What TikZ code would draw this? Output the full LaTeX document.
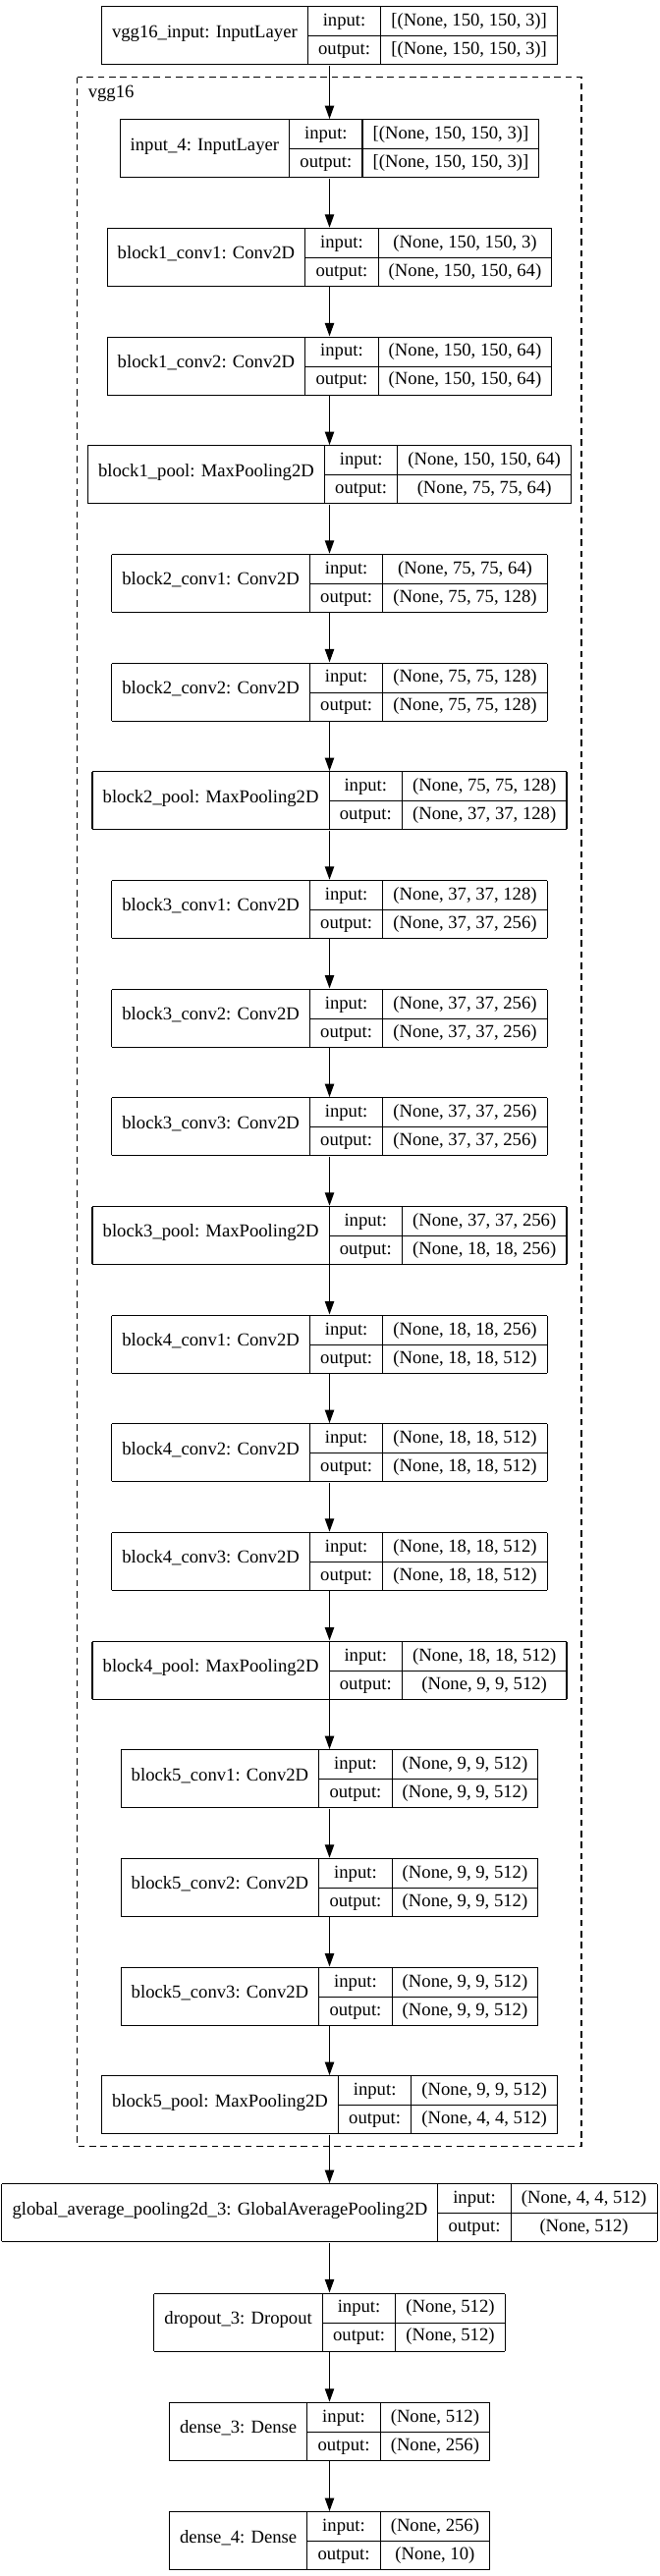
\documentclass[tikz,border=0pt]{standalone}
\usepackage{fontspec}
\setmainfont{Liberation Serif}
\usepackage{multirow}
\usetikzlibrary{arrows.meta}

\setlength{\tabcolsep}{8pt}
\setlength{\arrayrulewidth}{0.8pt}
\newcommand{\rowstrut}{\rule[-7.25pt]{0pt}{21.75pt}}
\newcommand{\rec}[3]{%
  \begin{tabular}{|c|c|c|}\hline
  \multirow{2}{*}{#1} & \rowstrut input: & #2\\ \cline{2-3}
   & \rowstrut output: & #3\\ \hline
  \end{tabular}}

\tikzset{
  layerbox/.style={anchor=north, inner sep=0pt},
  flow/.style={-{Triangle[length=10pt,width=7pt]}, line width=0.8pt}
}

\begin{document}
\begin{tikzpicture}[x=0.75pt, y=-0.75pt, font=\fontsize{14}{17}\selectfont]
\path[fill=white, use as bounding box] (0,0) rectangle (671,2623);
% the vgg16 sub-model
\draw [dashed, dash pattern=on 5pt off 3.5pt, line width=0.8pt] (78.5,78.5) rectangle (592,2185.5);
\node [anchor=base west, inner sep=0pt] (vgglabel) at (89.5,99) {vgg16};
\node [layerbox] (inp) at (335.5,6) {\rec{vgg16\_input: InputLayer}{[(None, 150, 150, 3)]}{[(None, 150, 150, 3)]}};
\node [layerbox] (inp4) at (335.5,121) {\rec{input\_4: InputLayer}{[(None, 150, 150, 3)]}{[(None, 150, 150, 3)]}};
\node [layerbox] (b1c1) at (335.5,231.7) {\rec{block1\_conv1: Conv2D}{(None, 150, 150, 3)}{(None, 150, 150, 64)}};
\node [layerbox] (b1c2) at (335.5,342.3) {\rec{block1\_conv2: Conv2D}{(None, 150, 150, 64)}{(None, 150, 150, 64)}};
\node [layerbox] (b1p) at (335.5,453) {\rec{block1\_pool: MaxPooling2D}{(None, 150, 150, 64)}{(None, 75, 75, 64)}};
\node [layerbox] (b2c1) at (335.5,563.7) {\rec{block2\_conv1: Conv2D}{(None, 75, 75, 64)}{(None, 75, 75, 128)}};
\node [layerbox] (b2c2) at (335.5,674.3) {\rec{block2\_conv2: Conv2D}{(None, 75, 75, 128)}{(None, 75, 75, 128)}};
\node [layerbox] (b2p) at (335.5,785) {\rec{block2\_pool: MaxPooling2D}{(None, 75, 75, 128)}{(None, 37, 37, 128)}};
\node [layerbox] (b3c1) at (335.5,895.7) {\rec{block3\_conv1: Conv2D}{(None, 37, 37, 128)}{(None, 37, 37, 256)}};
\node [layerbox] (b3c2) at (335.5,1006.4) {\rec{block3\_conv2: Conv2D}{(None, 37, 37, 256)}{(None, 37, 37, 256)}};
\node [layerbox] (b3c3) at (335.5,1117) {\rec{block3\_conv3: Conv2D}{(None, 37, 37, 256)}{(None, 37, 37, 256)}};
\node [layerbox] (b3p) at (335.5,1227.7) {\rec{block3\_pool: MaxPooling2D}{(None, 37, 37, 256)}{(None, 18, 18, 256)}};
\node [layerbox] (b4c1) at (335.5,1338.4) {\rec{block4\_conv1: Conv2D}{(None, 18, 18, 256)}{(None, 18, 18, 512)}};
\node [layerbox] (b4c2) at (335.5,1449) {\rec{block4\_conv2: Conv2D}{(None, 18, 18, 512)}{(None, 18, 18, 512)}};
\node [layerbox] (b4c3) at (335.5,1559.7) {\rec{block4\_conv3: Conv2D}{(None, 18, 18, 512)}{(None, 18, 18, 512)}};
\node [layerbox] (b4p) at (335.5,1670.4) {\rec{block4\_pool: MaxPooling2D}{(None, 18, 18, 512)}{(None, 9, 9, 512)}};
\node [layerbox] (b5c1) at (335.5,1781) {\rec{block5\_conv1: Conv2D}{(None, 9, 9, 512)}{(None, 9, 9, 512)}};
\node [layerbox] (b5c2) at (335.5,1891.7) {\rec{block5\_conv2: Conv2D}{(None, 9, 9, 512)}{(None, 9, 9, 512)}};
\node [layerbox] (b5c3) at (335.5,2002.4) {\rec{block5\_conv3: Conv2D}{(None, 9, 9, 512)}{(None, 9, 9, 512)}};
\node [layerbox] (b5p) at (335.5,2113) {\rec{block5\_pool: MaxPooling2D}{(None, 9, 9, 512)}{(None, 4, 4, 512)}};
% head
\node [layerbox] (gap) at (335.5,2223) {\rec{global\_average\_pooling2d\_3: GlobalAveragePooling2D}{(None, 4, 4, 512)}{(None, 512)}};
\node [layerbox] (drop) at (335.5,2334.3) {\rec{dropout\_3: Dropout}{(None, 512)}{(None, 512)}};
\node [layerbox] (d3) at (335.5,2445.6) {\rec{dense\_3: Dense}{(None, 512)}{(None, 256)}};
\node [layerbox] (d4) at (335.5,2557) {\rec{dense\_4: Dense}{(None, 256)}{(None, 10)}};
\draw [flow] (inp) -- (inp4);
\draw [flow] (inp4) -- (b1c1);
\draw [flow] (b1c1) -- (b1c2);
\draw [flow] (b1c2) -- (b1p);
\draw [flow] (b1p) -- (b2c1);
\draw [flow] (b2c1) -- (b2c2);
\draw [flow] (b2c2) -- (b2p);
\draw [flow] (b2p) -- (b3c1);
\draw [flow] (b3c1) -- (b3c2);
\draw [flow] (b3c2) -- (b3c3);
\draw [flow] (b3c3) -- (b3p);
\draw [flow] (b3p) -- (b4c1);
\draw [flow] (b4c1) -- (b4c2);
\draw [flow] (b4c2) -- (b4c3);
\draw [flow] (b4c3) -- (b4p);
\draw [flow] (b4p) -- (b5c1);
\draw [flow] (b5c1) -- (b5c2);
\draw [flow] (b5c2) -- (b5c3);
\draw [flow] (b5c3) -- (b5p);
\draw [flow] (b5p) -- (gap);
\draw [flow] (gap) -- (drop);
\draw [flow] (drop) -- (d3);
\draw [flow] (d3) -- (d4);
\end{tikzpicture}
\end{document}
